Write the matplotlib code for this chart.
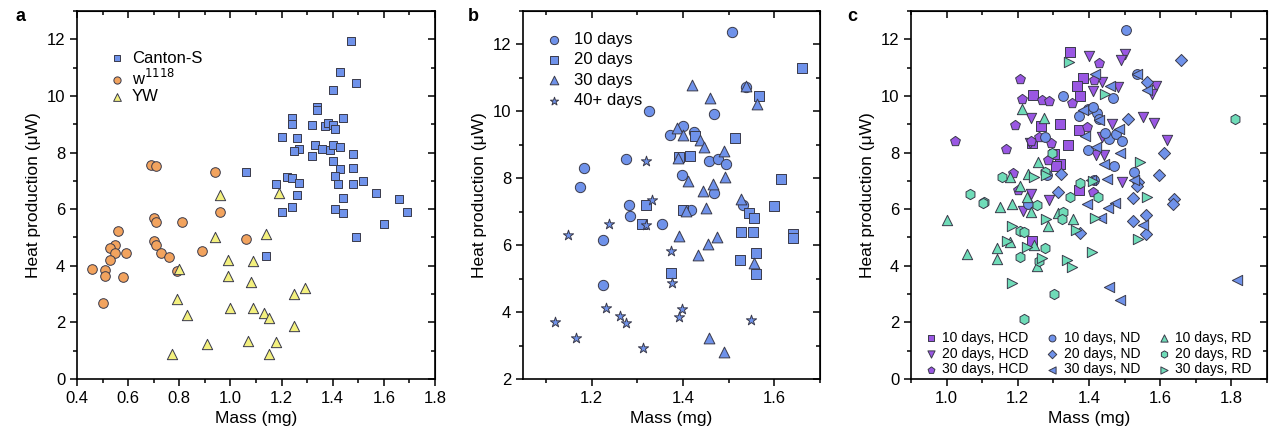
import matplotlib
matplotlib.use("Agg")
import matplotlib.pyplot as plt
from matplotlib.ticker import MultipleLocator

plt.rcParams['font.family'] = ['Liberation Sans', 'DejaVu Sans']

# ---- panel a: strains ----
canton_x = [1.47, 1.43, 1.49, 1.40, 1.34, 1.34, 1.24, 1.44, 1.24, 1.32, 1.37, 1.38, 1.40, 1.41,
            1.20, 1.26, 1.33, 1.27, 1.25, 1.32, 1.36, 1.39, 1.40, 1.43, 1.48, 1.40, 1.48, 1.43,
            1.41, 1.06, 1.22, 1.24, 1.18, 1.27, 1.42, 1.48, 1.52, 1.57, 1.26, 1.44, 1.20, 1.24,
            1.41, 1.44, 1.60, 1.49, 1.14, 1.66, 1.69]
canton_y = [11.94, 10.83, 10.47, 10.22, 9.61, 9.52, 9.23, 9.23, 9.02, 8.96, 8.93, 9.05, 8.99, 8.82,
            8.54, 8.52, 8.26, 8.12, 8.05, 7.89, 8.14, 8.09, 8.27, 8.19, 7.95, 7.69, 7.47, 7.41,
            7.18, 7.33, 7.13, 7.09, 6.89, 6.92, 6.90, 6.89, 7.01, 6.58, 6.49, 6.39, 5.89, 6.08,
            6.02, 5.87, 5.48, 5.01, 4.35, 6.36, 5.89]
w_x = [0.69, 0.71, 0.94, 0.96, 0.70, 0.71, 0.81, 0.56, 1.06, 0.70, 0.71, 0.55, 0.53, 0.55,
       0.59, 0.73, 0.89, 0.76, 0.53, 0.46, 0.51, 0.51, 0.58, 0.79, 0.50]
w_y = [7.56, 7.53, 7.32, 5.91, 5.69, 5.53, 5.54, 5.22, 4.95, 4.86, 4.74, 4.73, 4.62, 4.45,
       4.45, 4.45, 4.53, 4.32, 4.20, 3.89, 3.85, 3.65, 3.61, 3.81, 2.69]
yw_x = [0.96, 1.19, 0.94, 1.14, 0.99, 1.09, 0.80, 0.99, 1.08, 1.29, 1.25, 0.79, 1.00, 1.09,
        0.83, 1.13, 1.15, 1.25, 0.91, 1.07, 1.18, 0.77, 1.15]
yw_y = [6.49, 6.58, 5.02, 5.12, 4.20, 4.16, 3.89, 3.65, 3.43, 3.22, 3.00, 2.82, 2.50, 2.50,
        2.26, 2.32, 2.15, 1.89, 1.24, 1.33, 1.31, 0.89, 0.89]

# ---- panel b: age ----
d10_x = [1.508, 1.326, 1.468, 1.372, 1.401, 1.424, 1.275, 1.184, 1.174, 1.456, 1.477, 1.494,
         1.397, 1.469, 1.538, 1.283, 1.284, 1.354, 1.418, 1.531, 1.226, 1.226]
d10_y = [12.36, 10.01, 9.91, 9.29, 9.57, 9.38, 8.58, 8.30, 7.73, 8.52, 8.58, 8.44,
         8.11, 7.56, 10.74, 7.19, 6.87, 6.63, 7.04, 7.20, 6.16, 4.80]
d20_x = [1.660, 1.566, 1.513, 1.426, 1.416, 1.391, 1.614, 1.320, 1.400, 1.310, 1.599, 1.545,
         1.555, 1.526, 1.554, 1.560, 1.524, 1.560, 1.374, 1.640, 1.640]
d20_y = [11.30, 10.46, 9.20, 9.25, 8.68, 8.64, 7.99, 7.21, 7.06, 6.62, 7.18, 6.96,
         6.82, 6.40, 6.38, 5.78, 5.57, 5.14, 5.16, 6.32, 6.22]
d30_x = [1.420, 1.460, 1.538, 1.561, 1.388, 1.401, 1.437, 1.445, 1.389, 1.489, 1.412, 1.491,
         1.466, 1.443, 1.527, 1.407, 1.451, 1.391, 1.455, 1.475, 1.434, 1.556, 1.458, 1.490]
d30_y = [10.78, 10.41, 10.76, 10.22, 9.49, 9.30, 9.15, 8.93, 8.60, 8.82, 7.91, 8.03,
         7.82, 7.63, 7.37, 7.01, 7.12, 6.27, 6.04, 6.25, 5.71, 5.46, 3.24, 2.81]
d40_x = [1.319, 1.332, 1.239, 1.149, 1.319, 1.374, 1.376, 1.232, 1.399, 1.262, 1.391, 1.275,
         1.120, 1.550, 1.167, 1.313]
d40_y = [8.51, 7.34, 6.62, 6.31, 6.59, 5.83, 4.87, 4.11, 4.09, 3.89, 3.84, 3.66,
         3.70, 3.77, 3.22, 2.92]

# ---- panel c: diet x age ----
hcd10_x = [1.347, 1.382, 1.367, 1.374, 1.244, 1.320, 1.265, 1.373, 1.341, 1.303, 1.320, 1.308,
           1.373, 1.239, 1.241]
hcd10_y = [11.55, 10.64, 10.36, 10.00, 10.04, 9.00, 8.93, 8.79, 8.28, 7.94, 7.61, 7.53,
           6.67, 8.32, 4.88]
hcd20_x = [1.401, 1.500, 1.489, 1.436, 1.481, 1.411, 1.587, 1.577, 1.236, 1.553, 1.583, 1.466,
           1.436, 1.618, 1.235, 1.442, 1.421, 1.494, 1.238, 1.287, 1.214]
hcd20_y = [11.41, 11.49, 11.26, 10.49, 10.32, 10.18, 10.34, 10.08, 9.23, 9.26, 9.06, 9.00,
           8.55, 8.46, 8.35, 7.91, 7.90, 6.97, 6.55, 6.34, 5.93]
hcd30_x = [1.427, 1.206, 1.413, 1.212, 1.268, 1.287, 1.351, 1.193, 1.025, 1.238, 1.261, 1.294,
           1.168, 1.285, 1.188, 1.200, 1.410, 1.394]
hcd30_y = [11.16, 10.60, 10.57, 9.88, 9.85, 9.82, 9.75, 8.98, 8.40, 8.40, 8.55, 8.34,
           8.14, 7.73, 7.28, 6.67, 6.62, 8.91]
nd10_x = [1.505, 1.535, 1.327, 1.467, 1.373, 1.397, 1.423, 1.429, 1.457, 1.477, 1.494, 1.397,
          1.469, 1.276, 1.283, 1.414, 1.527, 1.228, 1.445, 1.410]
nd10_y = [12.34, 10.77, 9.99, 9.94, 9.28, 9.55, 9.41, 9.20, 8.49, 8.65, 8.41, 8.10,
          7.54, 8.55, 7.20, 7.04, 7.32, 6.18, 8.70, 9.60]
nd20_x = [1.658, 1.564, 1.511, 1.612, 1.597, 1.321, 1.538, 1.534, 1.314, 1.638, 1.637, 1.525,
          1.560, 1.559, 1.376, 1.523]
nd20_y = [11.28, 10.49, 9.20, 7.99, 7.20, 7.24, 6.95, 6.81, 6.61, 6.35, 6.20, 5.59,
          5.79, 5.14, 5.16, 6.41]
nd30_x = [1.418, 1.459, 1.535, 1.563, 1.383, 1.429, 1.485, 1.390, 1.487, 1.442, 1.451, 1.405,
          1.526, 1.420, 1.394, 1.474, 1.454, 1.434, 1.553, 1.455, 1.487, 1.817]
nd30_y = [10.77, 10.35, 10.77, 10.20, 9.50, 9.14, 8.84, 8.58, 7.99, 7.61, 7.08, 7.02,
          7.02, 8.20, 6.20, 6.22, 6.04, 5.69, 5.45, 3.24, 2.79, 3.49]
rd10_x = [1.212, 1.273, 1.256, 1.228, 1.178, 1.205, 1.226, 1.001, 1.150, 1.185, 1.236, 1.285,
          1.354, 1.057, 1.141, 1.142, 1.253, 1.178, 1.247, 1.312]
rd10_y = [9.53, 9.23, 7.67, 7.25, 7.14, 6.82, 6.44, 5.61, 6.08, 6.18, 5.89, 5.40,
          5.65, 4.40, 4.63, 4.25, 3.99, 4.85, 4.73, 5.88]
rd20_x = [1.809, 1.155, 1.065, 1.295, 1.276, 1.375, 1.348, 1.424, 1.104, 1.254, 1.326, 1.324,
          1.206, 1.218, 1.276, 1.207, 1.259, 1.301, 1.218, 1.101]
rd20_y = [9.19, 7.14, 6.52, 7.99, 7.32, 6.93, 6.44, 6.44, 6.26, 6.14, 5.91, 5.65,
          5.22, 5.19, 4.63, 4.32, 4.16, 3.02, 2.13, 6.23]
rd30_x = [1.343, 1.446, 1.544, 1.245, 1.279, 1.410, 1.564, 1.185, 1.169, 1.225, 1.267, 1.338,
          1.351, 1.409, 1.183, 1.418, 1.538, 1.364, 1.280]
rd30_y = [11.19, 10.06, 7.67, 7.13, 7.20, 7.00, 6.44, 5.41, 4.88, 4.67, 4.28, 4.20,
          3.96, 4.49, 3.40, 5.69, 4.93, 5.28, 5.67]

BLUE = '#6f92ea'
ORANGE = '#f2a35e'
YELLOW = '#f3f07e'
PURPLE = '#9a57e3'
TEAL = '#6fdcb8'
EDGE = '#3a3a4a'

fig = plt.figure(figsize=(12.7, 4.37), dpi=100)


def style(ax, xlim, ylim, xmaj, xmin, ymaj, ymin):
    ax.set_xlim(*xlim)
    ax.set_ylim(*ylim)
    ax.xaxis.set_major_locator(MultipleLocator(xmaj))
    ax.xaxis.set_minor_locator(MultipleLocator(xmin))
    ax.yaxis.set_major_locator(MultipleLocator(ymaj))
    ax.yaxis.set_minor_locator(MultipleLocator(ymin))
    ax.tick_params(which='both', direction='out', width=1.1, labelsize=12)
    ax.tick_params(which='major', length=5)
    ax.tick_params(which='minor', length=3)
    for s in ax.spines.values():
        s.set_linewidth(1.2)
    # mirrored ticks on top / right point inward
    top = ax.secondary_xaxis('top')
    top.xaxis.set_major_locator(MultipleLocator(xmaj))
    top.xaxis.set_minor_locator(MultipleLocator(xmin))
    top.tick_params(which='both', direction='in', width=1.1, labeltop=False)
    top.tick_params(which='major', length=5)
    top.tick_params(which='minor', length=3)
    right = ax.secondary_yaxis('right')
    right.yaxis.set_major_locator(MultipleLocator(ymaj))
    right.yaxis.set_minor_locator(MultipleLocator(ymin))
    right.tick_params(which='both', direction='in', width=1.1, labelright=False)
    right.tick_params(which='major', length=5)
    right.tick_params(which='minor', length=3)
    ax.set_xlabel('Mass (mg)', fontsize=12.5)
    ax.set_ylabel('Heat production (μW)', fontsize=12.5)


# panel a
axa = fig.add_axes([0.0606, 0.1327, 0.2819, 0.8421])
axa.scatter(canton_x, canton_y, marker='s', s=40, c=BLUE, edgecolors=EDGE, linewidths=0.7, label='Canton-S', zorder=3)
axa.scatter(w_x, w_y, marker='o', s=48, c=ORANGE, edgecolors=EDGE, linewidths=0.7, label='w$^{1118}$', zorder=3)
axa.scatter(yw_x, yw_y, marker='^', s=55, c=YELLOW, edgecolors=EDGE, linewidths=0.7, label='YW', zorder=3)
style(axa, (0.4, 1.8), (0, 13), 0.2, 0.1, 2, 1)
axa.legend(loc='upper left', bbox_to_anchor=(0.074, 0.91), frameon=False, fontsize=12,
           handletextpad=0.5, labelspacing=0.1, borderaxespad=0, handlelength=0.8,
           markerscale=0.75)

# panel b
axb = fig.add_axes([0.4118, 0.1327, 0.2339, 0.8421])
axb.scatter(d10_x, d10_y, marker='o', s=55, c=BLUE, edgecolors=EDGE, linewidths=0.7, label='10 days', zorder=3)
axb.scatter(d20_x, d20_y, marker='s', s=45, c=BLUE, edgecolors=EDGE, linewidths=0.7, label='20 days', zorder=3)
axb.scatter(d30_x, d30_y, marker='^', s=60, c=BLUE, edgecolors=EDGE, linewidths=0.7, label='30 days', zorder=3)
axb.scatter(d40_x, d40_y, marker='*', s=60, c=BLUE, edgecolors=EDGE, linewidths=0.7, label='40+ days', zorder=3)
style(axb, (1.05, 1.70), (2, 13), 0.2, 0.1, 2, 1)
axb.legend(loc='upper left', bbox_to_anchor=(0.048, 0.961), frameon=False, fontsize=12,
           handletextpad=0.6, labelspacing=0.32, borderaxespad=0, handlelength=1.2,
           markerscale=0.8)

# panel c
axc = fig.add_axes([0.7173, 0.1327, 0.2803, 0.8421])
series_c = [
    (hcd10_x, hcd10_y, 's', PURPLE, '10 days, HCD', 42),
    (hcd20_x, hcd20_y, 'v', PURPLE, '20 days, HCD', 55),
    (hcd30_x, hcd30_y, 'p', PURPLE, '30 days, HCD', 55),
    (nd10_x, nd10_y, 'o', BLUE, '10 days, ND', 50),
    (nd20_x, nd20_y, 'D', BLUE, '20 days, ND', 38),
    (nd30_x, nd30_y, '<', BLUE, '30 days, ND', 55),
    (rd10_x, rd10_y, '^', TEAL, '10 days, RD', 55),
    (rd20_x, rd20_y, 'h', TEAL, '20 days, RD', 55),
    (rd30_x, rd30_y, '>', TEAL, '30 days, RD', 55),
]
for xs, ys, m, col, lab, sz in series_c:
    axc.scatter(xs, ys, marker=m, s=sz, c=col, edgecolors=EDGE, linewidths=0.7, label=lab, zorder=3)
style(axc, (0.9, 1.9), (0, 13), 0.2, 0.1, 2, 1)
axc.legend(loc='lower left', bbox_to_anchor=(0.01, -0.019), ncol=3, frameon=False, fontsize=10,
           handletextpad=0.3, labelspacing=0.12, columnspacing=1.2, borderaxespad=0.3,
           handlelength=1.0, markerscale=0.7)

for lab, x in (('a', 0.012), ('b', 0.368), ('c', 0.667)):
    fig.text(x, 0.962, lab, fontsize=13, fontweight='bold', va='center')

fig.savefig('out.png', dpi=100)
